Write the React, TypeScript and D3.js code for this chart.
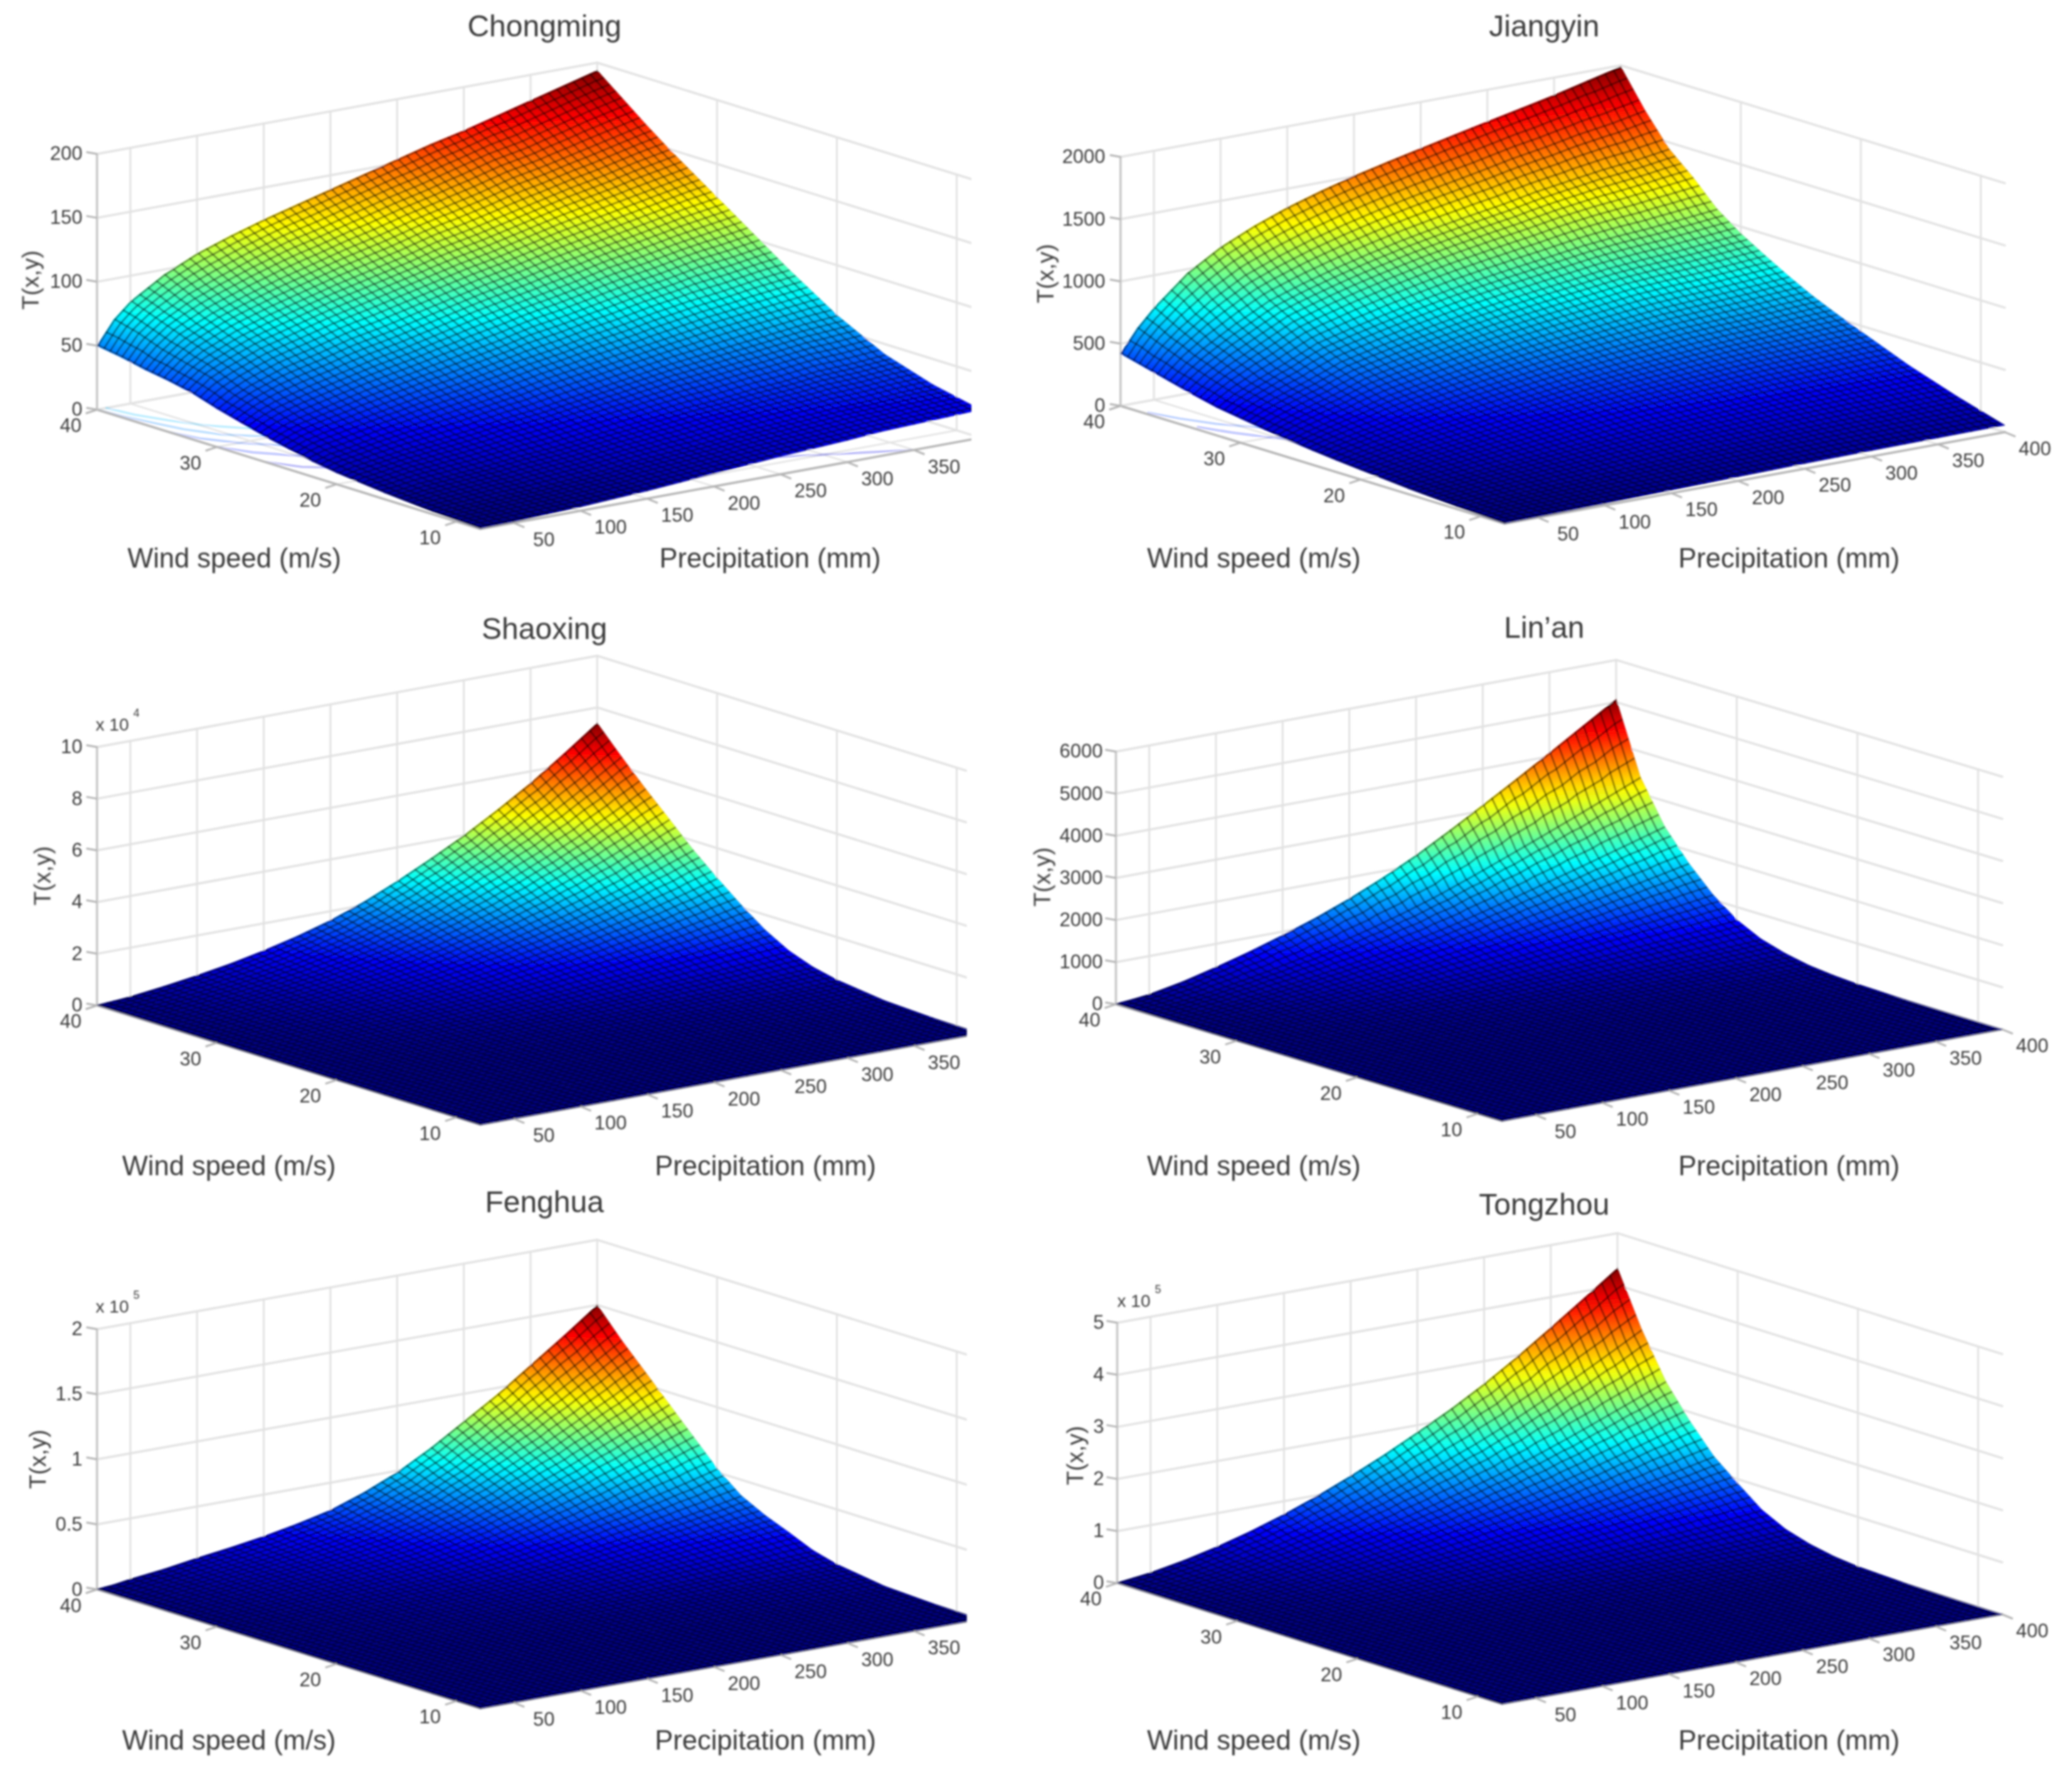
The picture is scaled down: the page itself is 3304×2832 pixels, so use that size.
import * as d3 from "d3";

const FONT = "'Liberation Sans', Arial, sans-serif";

// shared grid nodes of the surfaces
const precipNodes = [25, 37.5, 50, 75, 100, 125, 150, 175, 200, 225, 250, 275, 300, 325, 350, 375, 400];
const windNodes = [8, 12, 16, 20, 22, 24, 26, 28, 30, 32, 34, 36, 38, 40];

const windTicks = [10, 20, 30, 40];
const precipTicksShort = [50, 100, 150, 200, 250, 300, 350];
const precipTicksLong = [50, 100, 150, 200, 250, 300, 350, 400];

// T(x,y), one row per wind node, one column per precipitation node
const chongmingT = [
  [0.5, 0.7, 0.9, 2, 3, 4.6, 6, 8, 10, 12, 14, 15.5, 17, 19, 20, 21, 22],
  [2, 2.7, 3.2, 5, 6, 8, 10, 13, 15, 17, 20, 22, 24, 26, 27, 29, 30],
  [5, 6, 8, 10, 12, 15, 17, 20, 23, 26, 29, 31, 34, 36, 39, 40, 42],
  [9, 12, 14, 18, 21, 24, 28, 31, 35, 39, 43, 47, 50, 53, 56, 59, 61],
  [12, 16, 18, 23, 27, 31, 35, 39, 44, 48, 52, 56, 60, 64, 67, 70, 73],
  [16, 21, 24, 29, 34, 39, 43, 48, 53, 57, 62, 66, 71, 75, 78, 82, 85],
  [20, 26, 30, 36, 42, 47, 52, 57, 62, 68, 72, 77, 82, 86, 91, 94, 98],
  [25, 32, 37, 44, 50, 56, 61, 67, 73, 78, 83, 88, 94, 98, 103, 107, 111],
  [30, 38, 44, 53, 59, 66, 71, 77, 83, 89, 94, 100, 105, 110, 115, 120, 124],
  [36, 46, 52, 62, 69, 76, 82, 88, 94, 100, 105, 111, 117, 122, 127, 132, 137],
  [40, 51, 59, 70, 78, 85, 92, 98, 104, 111, 116, 122, 128, 134, 139, 145, 150],
  [43, 56, 66, 78, 87, 95, 102, 109, 115, 122, 128, 134, 141, 146, 152, 158, 164],
  [47, 63, 73, 87, 97, 106, 114, 120, 127, 134, 140, 147, 154, 159, 166, 173, 179],
  [50, 68, 80, 96, 108, 117, 125, 132, 139, 146, 153, 160, 166, 173, 180, 187, 194],
];
const jiangyinT = [
  [3, 5, 6, 10, 14, 19, 24, 29, 34, 38, 42, 45, 48, 50, 52, 54, 55],
  [20, 26, 32, 44, 56, 69, 84, 98, 112, 123, 133, 142, 150, 156, 161, 167, 170],
  [45, 58, 69, 92, 114, 136, 159, 182, 204, 222, 238, 251, 265, 275, 283, 294, 300],
  [78, 101, 121, 158, 191, 224, 256, 287, 317, 342, 363, 383, 402, 417, 429, 444, 455],
  [95, 124, 149, 194, 234, 271, 308, 343, 377, 404, 429, 451, 473, 490, 504, 522, 535],
  [115, 152, 182, 236, 292, 335, 376, 414, 451, 482, 509, 533, 558, 572, 584, 605, 620],
  [138, 183, 220, 286, 357, 405, 451, 494, 534, 568, 598, 626, 653, 669, 684, 701, 720],
  [165, 220, 265, 343, 432, 486, 537, 585, 629, 665, 698, 729, 760, 777, 790, 810, 830],
  [195, 261, 314, 406, 507, 568, 624, 675, 722, 762, 797, 830, 864, 885, 900, 922, 945],
  [225, 306, 369, 479, 597, 665, 727, 783, 834, 877, 916, 952, 990, 1016, 1033, 1059, 1085],
  [270, 370, 449, 582, 711, 791, 862, 924, 981, 1030, 1073, 1113, 1159, 1194, 1219, 1250, 1280],
  [320, 438, 530, 685, 819, 908, 984, 1051, 1111, 1162, 1208, 1251, 1303, 1343, 1382, 1410, 1450],
  [370, 516, 629, 817, 965, 1068, 1155, 1229, 1294, 1352, 1403, 1454, 1510, 1554, 1607, 1647, 1700],
  [420, 600, 740, 970, 1130, 1250, 1350, 1432, 1505, 1568, 1628, 1687, 1745, 1802, 1860, 1925, 1990],
];
const shaoxingT = [
  [0, 0, 0, 0, 0.001, 0.001, 0.001, 0.002, 0.002, 0.003, 0.004, 0.005, 0.006, 0.007, 0.008, 0.009, 0.01],
  [0, 0, 0.001, 0.001, 0.002, 0.003, 0.005, 0.006, 0.008, 0.011, 0.014, 0.017, 0.02, 0.024, 0.028, 0.032, 0.035],
  [0, 0.001, 0.002, 0.004, 0.007, 0.011, 0.015, 0.02, 0.026, 0.034, 0.043, 0.053, 0.064, 0.076, 0.089, 0.103, 0.12],
  [0.001, 0.003, 0.005, 0.013, 0.022, 0.032, 0.045, 0.06, 0.078, 0.1, 0.127, 0.157, 0.188, 0.223, 0.261, 0.303, 0.35],
  [0.002, 0.005, 0.008, 0.021, 0.035, 0.052, 0.072, 0.097, 0.125, 0.162, 0.205, 0.253, 0.304, 0.361, 0.422, 0.49, 0.56],
  [0.002, 0.007, 0.013, 0.033, 0.056, 0.083, 0.116, 0.155, 0.201, 0.26, 0.329, 0.406, 0.488, 0.58, 0.677, 0.787, 0.9],
  [0.004, 0.012, 0.021, 0.052, 0.088, 0.131, 0.182, 0.244, 0.317, 0.409, 0.518, 0.639, 0.768, 0.912, 1.066, 1.238, 1.42],
  [0.006, 0.017, 0.031, 0.077, 0.131, 0.193, 0.27, 0.361, 0.469, 0.605, 0.767, 0.946, 1.136, 1.349, 1.576, 1.832, 2.1],
  [0.008, 0.023, 0.042, 0.104, 0.177, 0.262, 0.366, 0.489, 0.635, 0.82, 1.04, 1.282, 1.54, 1.829, 2.137, 2.483, 2.85],
  [0.01, 0.03, 0.054, 0.133, 0.227, 0.335, 0.468, 0.626, 0.813, 1.05, 1.331, 1.642, 1.972, 2.342, 2.736, 3.18, 3.65],
  [0.012, 0.037, 0.068, 0.166, 0.283, 0.418, 0.584, 0.781, 1.015, 1.31, 1.661, 2.048, 2.46, 2.921, 3.413, 3.967, 4.55],
  [0.015, 0.044, 0.081, 0.199, 0.339, 0.5, 0.699, 0.935, 1.214, 1.568, 1.987, 2.451, 2.944, 3.496, 4.085, 4.747, 5.45],
  [0.017, 0.052, 0.095, 0.234, 0.398, 0.588, 0.822, 1.099, 1.427, 1.842, 2.336, 2.88, 3.46, 4.109, 4.801, 5.579, 6.4],
  [0.02, 0.06, 0.11, 0.27, 0.46, 0.68, 0.95, 1.27, 1.65, 2.13, 2.7, 3.33, 4.0, 4.75, 5.55, 6.45, 7.4],
];
const linanT = [
  [0, 0, 0, 0, 0, 0, 0, 0, 0, 0, 0, 1, 1, 1, 1, 1, 1],
  [0, 0, 0, 0, 0, 0, 1, 1, 1, 1, 1, 2, 2, 2, 2, 3, 3],
  [0, 0, 0, 1, 1, 2, 2, 3, 4, 4, 5, 6, 8, 9, 10, 11, 12],
  [0, 0, 1, 2, 4, 5, 7, 10, 12, 15, 18, 21, 25, 29, 33, 37, 40],
  [0, 1, 1, 4, 7, 10, 14, 18, 23, 28, 34, 40, 47, 54, 61, 69, 75],
  [0, 1, 3, 7, 12, 18, 25, 32, 41, 50, 60, 72, 85, 97, 110, 124, 135],
  [1, 2, 5, 12, 22, 33, 45, 58, 74, 91, 110, 131, 154, 177, 200, 224, 250],
  [1, 4, 8, 21, 37, 56, 76, 99, 125, 154, 186, 222, 261, 300, 339, 380, 420],
  [2, 7, 13, 35, 62, 92, 127, 164, 207, 255, 309, 370, 433, 498, 564, 632, 700],
  [3, 11, 21, 56, 100, 149, 205, 265, 335, 413, 500, 598, 700, 805, 912, 1021, 1130],
  [5, 17, 32, 84, 151, 224, 308, 399, 503, 620, 750, 898, 1052, 1209, 1370, 1534, 1700],
  [7, 24, 45, 118, 213, 317, 435, 563, 710, 875, 1060, 1268, 1485, 1708, 1935, 2166, 2400],
  [10, 34, 64, 168, 302, 449, 616, 797, 1005, 1240, 1501, 1796, 2104, 2419, 2740, 3069, 3400],
  [15, 50, 95, 250, 450, 670, 920, 1190, 1500, 1850, 2240, 2680, 3140, 3610, 4090, 4580, 5070],
];
const fenghuaT = [
  [0, 0, 0, 0, 0, 0, 0, 0, 0, 0, 0, 0, 0.001, 0.001, 0.001, 0.001, 0.001],
  [0, 0, 0, 0, 0.001, 0.001, 0.001, 0.001, 0.001, 0.002, 0.002, 0.003, 0.004, 0.005, 0.006, 0.007, 0.007],
  [0, 0, 0.001, 0.001, 0.002, 0.002, 0.003, 0.004, 0.005, 0.006, 0.008, 0.011, 0.013, 0.016, 0.019, 0.022, 0.025],
  [0, 0.001, 0.002, 0.003, 0.006, 0.007, 0.01, 0.012, 0.015, 0.02, 0.026, 0.033, 0.042, 0.05, 0.06, 0.069, 0.08],
  [0, 0.001, 0.003, 0.006, 0.009, 0.012, 0.016, 0.02, 0.025, 0.033, 0.043, 0.055, 0.069, 0.083, 0.098, 0.114, 0.13],
  [0.001, 0.002, 0.005, 0.009, 0.015, 0.02, 0.025, 0.032, 0.041, 0.053, 0.069, 0.088, 0.111, 0.133, 0.158, 0.183, 0.21],
  [0.001, 0.003, 0.007, 0.012, 0.02, 0.027, 0.034, 0.044, 0.055, 0.072, 0.093, 0.12, 0.15, 0.181, 0.215, 0.249, 0.285],
  [0.001, 0.004, 0.009, 0.016, 0.027, 0.035, 0.046, 0.058, 0.073, 0.096, 0.124, 0.159, 0.2, 0.24, 0.286, 0.331, 0.38],
  [0.001, 0.005, 0.012, 0.023, 0.037, 0.049, 0.064, 0.081, 0.102, 0.134, 0.173, 0.222, 0.279, 0.335, 0.399, 0.462, 0.53],
  [0.002, 0.007, 0.017, 0.031, 0.05, 0.067, 0.086, 0.11, 0.139, 0.182, 0.235, 0.302, 0.379, 0.456, 0.542, 0.629, 0.72],
  [0.002, 0.009, 0.021, 0.039, 0.064, 0.085, 0.109, 0.14, 0.176, 0.231, 0.297, 0.382, 0.48, 0.577, 0.686, 0.795, 0.91],
  [0.003, 0.011, 0.026, 0.048, 0.077, 0.103, 0.132, 0.169, 0.213, 0.279, 0.359, 0.462, 0.579, 0.696, 0.828, 0.96, 1.1],
  [0.003, 0.013, 0.03, 0.056, 0.09, 0.12, 0.155, 0.198, 0.249, 0.327, 0.421, 0.542, 0.679, 0.817, 0.972, 1.127, 1.29],
  [0.004, 0.015, 0.035, 0.065, 0.105, 0.14, 0.18, 0.23, 0.29, 0.38, 0.49, 0.63, 0.79, 0.95, 1.13, 1.31, 1.5],
];
const tongzhouT = [
  [0, 0, 0, 0, 0, 0, 0, 0, 0, 0, 0, 0, 0.001, 0.001, 0.001, 0.001, 0.001],
  [0, 0, 0, 0, 0, 0, 0.001, 0.001, 0.001, 0.001, 0.002, 0.002, 0.002, 0.003, 0.003, 0.003, 0.004],
  [0, 0, 0, 0.001, 0.001, 0.002, 0.003, 0.003, 0.004, 0.005, 0.007, 0.008, 0.009, 0.01, 0.012, 0.014, 0.015],
  [0, 0.001, 0.001, 0.002, 0.004, 0.006, 0.009, 0.011, 0.014, 0.018, 0.022, 0.025, 0.03, 0.034, 0.039, 0.045, 0.05],
  [0, 0.001, 0.002, 0.005, 0.008, 0.012, 0.017, 0.023, 0.029, 0.036, 0.043, 0.051, 0.059, 0.069, 0.079, 0.089, 0.1],
  [0, 0.002, 0.004, 0.009, 0.016, 0.024, 0.033, 0.044, 0.055, 0.068, 0.082, 0.097, 0.113, 0.131, 0.15, 0.17, 0.19],
  [0.001, 0.004, 0.007, 0.016, 0.027, 0.041, 0.057, 0.075, 0.096, 0.118, 0.142, 0.167, 0.195, 0.226, 0.26, 0.294, 0.33],
  [0.001, 0.006, 0.012, 0.027, 0.046, 0.07, 0.097, 0.128, 0.163, 0.2, 0.241, 0.284, 0.332, 0.384, 0.441, 0.499, 0.56],
  [0.002, 0.011, 0.019, 0.045, 0.076, 0.114, 0.159, 0.21, 0.267, 0.329, 0.396, 0.466, 0.545, 0.632, 0.725, 0.82, 0.92],
  [0.003, 0.015, 0.027, 0.063, 0.108, 0.162, 0.225, 0.297, 0.378, 0.465, 0.561, 0.66, 0.771, 0.894, 1.026, 1.161, 1.3],
  [0.004, 0.021, 0.038, 0.089, 0.152, 0.228, 0.317, 0.419, 0.533, 0.656, 0.791, 0.931, 1.087, 1.261, 1.447, 1.637, 1.83],
  [0.006, 0.028, 0.051, 0.119, 0.204, 0.306, 0.425, 0.56, 0.713, 0.877, 1.058, 1.245, 1.455, 1.687, 1.936, 2.19, 2.45],
  [0.008, 0.038, 0.069, 0.16, 0.274, 0.411, 0.572, 0.754, 0.96, 1.181, 1.425, 1.676, 1.958, 2.271, 2.606, 2.949, 3.3],
  [0.01, 0.05, 0.09, 0.21, 0.36, 0.54, 0.75, 0.99, 1.26, 1.55, 1.87, 2.2, 2.57, 2.98, 3.42, 3.87, 4.33],
];

const chongmingZTicks = [0, 50, 100, 150, 200];
const jiangyinZTicks = [0, 500, 1000, 1500, 2000];
const shaoxingZTicks = [0, 2, 4, 6, 8, 10];
const linanZTicks = [0, 1000, 2000, 3000, 4000, 5000, 6000];
const fenghuaZTicks = [0, 0.5, 1, 1.5, 2];
const tongzhouZTicks = [0, 1, 2, 3, 4, 5];

const chongmingContours = [20, 30, 40, 50, 60];
const jiangyinContours = [300, 400];

// MATLAB's jet
const jet = d3
  .scaleLinear<string>()
  .domain([0, 0.125, 0.375, 0.625, 0.875, 1])
  .range(["#00008f", "#0000ff", "#00ffff", "#ffff00", "#ff0000", "#800000"])
  .clamp(true);

// layout numbers were measured on crops, SX/sy bring them back to page pixels
const panels = [
  {
    name: "Chongming", T: chongmingT, zTicks: chongmingZTicks, contours: chongmingContours, exp: null,
    pTicks: precipTicksShort, off: [0, 0], sy: 0.606, O: [147, 1078], B: [728, 1392], backDy: -240, zPx: 673, clipX: 1472,
    zLabelX: 125, title: [825, 100], zName: [47, 737], windLabel: [355, 1493], precipLabel: [1167, 1493], mult: null,
  },
  {
    name: "Jiangyin", T: jiangyinT, zTicks: jiangyinZTicks, contours: jiangyinContours, exp: null,
    pTicks: precipTicksLong, off: [1650, 0], sy: 0.606, O: [130, 1068], B: [712, 1378], backDy: -241, zPx: 655, clipX: 1500,
    zLabelX: 107, title: [772, 100], zName: [17, 720], windLabel: [332, 1493], precipLabel: [1143, 1493], mult: null,
  },
  {
    name: "Shaoxing", T: shaoxingT, zTicks: shaoxingZTicks, contours: [], exp: "4",
    pTicks: precipTicksShort, off: [0, 950], sy: 0.606, O: [147, 1078], B: [728, 1392], backDy: -240, zPx: 680, clipX: 1465,
    zLabelX: 125, title: [825, 118], zName: [65, 737], windLabel: [347, 1525], precipLabel: [1160, 1525], mult: [145, 355],
  },
  {
    name: "Lin’an", T: linanT, zTicks: linanZTicks, contours: [], exp: null,
    pTicks: precipTicksLong, off: [1650, 950], sy: 0.606, O: [123, 1075], B: [708, 1382], backDy: -241, zPx: 665, clipX: 1500,
    zLabelX: 103, title: [772, 115], zName: [12, 740], windLabel: [332, 1525], precipLabel: [1143, 1525], mult: null,
  },
  {
    name: "Fenghua", T: fenghuaT, zTicks: fenghuaZTicks, contours: [], exp: "5",
    pTicks: precipTicksShort, off: [0, 1900], sy: 0.593, O: [147, 1070], B: [728, 1390], backDy: -240, zPx: 700, clipX: 1465,
    zLabelX: 125, title: [825, 60], zName: [58, 720], windLabel: [347, 1500], precipLabel: [1160, 1500], mult: [145, 325],
  },
  {
    name: "Tongzhou", T: tongzhouT, zTicks: tongzhouZTicks, contours: [], exp: "5",
    pTicks: precipTicksLong, off: [1650, 1900], sy: 0.593, O: [125, 1053], B: [708, 1378], backDy: -241, zPx: 700, clipX: 1500,
    zLabelX: 105, title: [772, 68], zName: [62, 710], windLabel: [332, 1500], precipLabel: [1143, 1500], mult: [125, 310],
  },
];

const SX = 1650 / 1568;
const GRID = "#e2e2e2";
const AXIS = "#b4b4b4";
const INK = "#3a3a3a";
const MESH_WIDTH = 2.6;

function Label({ x, y, size, children, anchor = "middle" }: any) {
  return (
    <text x={x} y={y} fontFamily={FONT} fontSize={size} fill={INK} textAnchor={anchor}>
      {children}
    </text>
  );
}

function Panel({ cfg, idx }: { cfg: (typeof panels)[number]; idx: number }) {
  const { T, zTicks, sy } = cfg;
  const zTop = zTicks[zTicks.length - 1];
  const toX = (x: number) => cfg.off[0] + x * SX;
  const toY = (y: number) => cfg.off[1] + y * sy;

  const pX = d3.scaleLinear([25, 400], [toX(cfg.O[0]), toX(cfg.O[0] + 758)]);
  const pY = d3.scaleLinear([25, 400], [0, cfg.backDy * sy]);
  const wX = d3.scaleLinear([40, 8], [0, (cfg.B[0] - cfg.O[0]) * SX]);
  const wY = d3.scaleLinear([40, 8], [toY(cfg.O[1]), toY(cfg.B[1])]);
  const zY = d3.scaleLinear([0, zTop], [0, -cfg.zPx * sy]);
  const project = (p: number, w: number, z: number): [number, number] => [
    pX(p) + wX(w),
    pY(p) + wY(w) + zY(z),
  ];

  const zMin = d3.min(T.flat())!;
  const zMax = d3.max(T.flat())!;
  const colour = (z: number) => jet((z - zMin) / (zMax - zMin));

  // mesh cell coordinates: the surface has a step of 6.25 mm and 0.5 m/s
  const meshI = (p: number) => (p - 25) / 6.25;
  const meshJ = (w: number) => (40 - w) / 0.5;

  const tris: any[] = [];
  for (let r = windNodes.length - 2; r >= 0; r--) {
    for (let c = precipNodes.length - 2; c >= 0; c--) {
      const corner = (rr: number, cc: number) => ({
        p: precipNodes[cc],
        w: windNodes[rr],
        z: T[rr][cc],
      });
      const a = corner(r, c);
      const b = corner(r, c + 1);
      const e = corner(r + 1, c + 1);
      const f = corner(r + 1, c);
      tris.push({ id: `${idx}-${r}-${c}-a`, v: [a, b, e] });
      tris.push({ id: `${idx}-${r}-${c}-b`, v: [a, e, f] });
    }
  }

  const cells = tris.map((t) => {
    const [v0, v1, v2] = t.v;
    const s0 = project(v0.p, v0.w, v0.z);
    const s1 = project(v1.p, v1.w, v1.z);
    const s2 = project(v2.p, v2.w, v2.z);

    // z as a plane over the screen, so the colour runs straight through the triangle
    const dx1 = s1[0] - s0[0];
    const dy1 = s1[1] - s0[1];
    const dz1 = v1.z - v0.z;
    const dx2 = s2[0] - s0[0];
    const dy2 = s2[1] - s0[1];
    const dz2 = v2.z - v0.z;
    const det = dx1 * dy2 - dx2 * dy1;
    const ga = (dz1 * dy2 - dz2 * dy1) / det;
    const gb = (dx1 * dz2 - dx2 * dz1) / det;
    const g2 = ga * ga + gb * gb;
    const lo = Math.min(v0.z, v1.z, v2.z);
    const hi = Math.max(v0.z, v1.z, v2.z);
    const flat = !(g2 > 0) || hi - lo < (zMax - zMin) * 1e-4;

    // the mesh tile mapped onto the triangle
    const i0 = meshI(v0.p);
    const j0 = meshJ(v0.w);
    const di1 = meshI(v1.p) - i0;
    const dj1 = meshJ(v1.w) - j0;
    const di2 = meshI(v2.p) - i0;
    const dj2 = meshJ(v2.w) - j0;
    const md = di1 * dj2 - di2 * dj1;
    const ma = (dx1 * dj2 - dx2 * dj1) / md;
    const mc = (di1 * dx2 - di2 * dx1) / md;
    const mb = (dy1 * dj2 - dy2 * dj1) / md;
    const md2 = (di1 * dy2 - di2 * dy1) / md;
    const me = s0[0] - ma * i0 - mc * j0;
    const mf = s0[1] - mb * i0 - md2 * j0;

    // keep the mesh lines the same width on the page however far the tile is stretched
    const area = Math.abs(ma * md2 - mb * mc);
    const thickJ = Math.min(0.45, MESH_WIDTH / (area / Math.hypot(ma, mb)));
    const thickI = Math.min(0.45, MESH_WIDTH / (area / Math.hypot(mc, md2)));

    return {
      id: t.id,
      points: [s0, s1, s2].map((s) => s.join(",")).join(" "),
      flat,
      flatColour: colour((lo + hi) / 2),
      x1: s0[0] + ((lo - v0.z) * ga) / g2,
      y1: s0[1] + ((lo - v0.z) * gb) / g2,
      x2: s0[0] + ((hi - v0.z) * ga) / g2,
      y2: s0[1] + ((hi - v0.z) * gb) / g2,
      stops: d3.range(0, 7).map((k) => ({ o: k / 6, col: colour(lo + ((hi - lo) * k) / 6) })),
      matrix: `matrix(${ma},${mb},${mc},${md2},${me},${mf})`,
      thickI,
      thickJ,
    };
  });

  // contours of the surface laid on the floor, only visible where the surface floats off it
  const contourLine = d3.line();
  const contourPaths = cfg.contours.map((level) => {
    const pts: [number, number][] = [];
    windNodes.forEach((w, r) => {
      for (let c = 0; c < precipNodes.length - 1; c++) {
        const a = T[r][c];
        const b = T[r][c + 1];
        if (a <= level && level < b) {
          const p = d3.scaleLinear([a, b], [precipNodes[c], precipNodes[c + 1]])(level);
          pts.push(project(p, w, 0));
        }
      }
    });
    return { level, d: contourLine(pts) || "" };
  });

  const line = (a: [number, number], b: [number, number], key: string, stroke: string, width: number) => (
    <line key={key} x1={a[0]} y1={a[1]} x2={b[0]} y2={b[1]} stroke={stroke} strokeWidth={width} />
  );
  const allP = [...precipTicksLong];

  return (
    <g>
      <defs>
        <clipPath id={`clip-${idx}`}>
          <rect x={cfg.off[0]} y={cfg.off[1] - 100} width={cfg.clipX * SX} height={1100} />
        </clipPath>
        {cells.map((c) =>
          c.flat ? null : (
            <linearGradient
              key={c.id}
              id={`g-${c.id}`}
              gradientUnits="userSpaceOnUse"
              x1={c.x1}
              y1={c.y1}
              x2={c.x2}
              y2={c.y2}
            >
              {c.stops.map((s) => (
                <stop key={s.o} offset={s.o} stopColor={s.col} />
              ))}
            </linearGradient>
          ),
        )}
        {cells.map((c) => (
          <pattern
            key={c.id}
            id={`m-${c.id}`}
            patternUnits="userSpaceOnUse"
            width={1}
            height={1}
            patternTransform={c.matrix}
          >
            <rect x={0} y={0} width={1} height={c.thickJ} fill="#000" fillOpacity={0.5} />
            <rect x={0} y={0} width={c.thickI} height={1} fill="#000" fillOpacity={0.5} />
          </pattern>
        ))}
      </defs>

      <g clipPath={`url(#clip-${idx})`} strokeLinecap="round">
        {/* back walls and floor */}
        {zTicks.map((z) => line(project(25, 40, z), project(400, 40, z), `lw-${z}`, GRID, 3.5))}
        {zTicks.map((z) => line(project(400, 40, z), project(400, 8, z), `rw-${z}`, GRID, 3.5))}
        {allP.map((p) => line(project(p, 40, 0), project(p, 40, zTop), `lv-${p}`, GRID, 3))}
        {windTicks.slice(0, 3).map((w) => line(project(400, w, 0), project(400, w, zTop), `rv-${w}`, GRID, 3))}
        {allP.map((p) => line(project(p, 40, 0), project(p, 8, 0), `fp-${p}`, GRID, 2.5))}
        {windTicks.map((w) => line(project(25, w, 0), project(400, w, 0), `fw-${w}`, GRID, 2.5))}
        {contourPaths.map((c) => (
          <path key={c.level} d={c.d} fill="none" stroke={colour(c.level)} strokeOpacity={0.3} strokeWidth={3} />
        ))}
        {line(project(25, 40, 0), project(25, 8, 0), "ax-w", AXIS, 3.5)}
        {line(project(25, 8, 0), project(400, 8, 0), "ax-p", AXIS, 3.5)}
        {line(project(25, 40, 0), project(25, 40, zTop), "ax-z", "#c6c6c6", 3.5)}

        {/* surface */}
        {cells.map((c) => {
          const fill = c.flat ? c.flatColour : `url(#g-${c.id})`;
          return <polygon key={c.id} points={c.points} fill={fill} stroke={fill} strokeWidth={0.8} />;
        })}
        {cells.map((c) => (
          <polygon key={c.id} points={c.points} fill={`url(#m-${c.id})`} />
        ))}
      </g>

      {/* ticks */}
      {zTicks.map((z) => {
        const s = project(25, 40, z);
        return line(s, [s[0] - 17, s[1] - 3], `tz-${z}`, AXIS, 3);
      })}
      {windTicks.map((w) => {
        const s = project(25, w, 0);
        return line(s, [s[0] - 18, s[1] + 6], `tw-${w}`, AXIS, 3);
      })}
      {cfg.pTicks.map((p) => {
        const s = project(p, 8, 0);
        return line(s, [s[0] + 17, s[1] + 7], `tp-${p}`, AXIS, 3);
      })}

      {zTicks.map((z) => (
        <Label key={z} x={toX(cfg.zLabelX)} y={project(25, 40, z)[1] + 10} size={31} anchor="end">
          {String(z)}
        </Label>
      ))}
      {windTicks.map((w) => {
        const s = project(25, w, 0);
        return (
          <Label key={w} x={s[0] - 42} y={s[1] + 36} size={31}>
            {String(w)}
          </Label>
        );
      })}
      {cfg.pTicks.map((p) => {
        const s = project(p, 8, 0);
        return (
          <Label key={p} x={s[0] + 48} y={s[1] + 37} size={31}>
            {String(p)}
          </Label>
        );
      })}

      <Label x={toX(cfg.title[0])} y={toY(cfg.title[1]) - 3} size={48}>
        {cfg.name}
      </Label>
      <Label x={toX(cfg.windLabel[0])} y={toY(cfg.windLabel[1])} size={43.5}>
        Wind speed (m/s)
      </Label>
      <Label x={toX(cfg.precipLabel[0])} y={toY(cfg.precipLabel[1])} size={43.5}>
        Precipitation (mm)
      </Label>
      <text
        transform={`translate(${toX(cfg.zName[0]) + 12},${toY(cfg.zName[1])}) rotate(-90)`}
        fontFamily={FONT}
        fontSize={37}
        fill={INK}
        textAnchor="middle"
      >
        T(x,y)
      </text>
      {cfg.mult && (
        <>
          <Label x={toX(cfg.mult[0])} y={toY(cfg.mult[1])} size={28} anchor="start">
            x 10
          </Label>
          <Label x={toX(cfg.mult[0]) + 60} y={toY(cfg.mult[1]) - 22} size={18} anchor="start">
            {cfg.exp}
          </Label>
        </>
      )}
    </g>
  );
}

export default function App() {
  return (
    <svg
      width={3304}
      height={2832}
      viewBox="0 0 3304 2832"
      style={{ position: "absolute", left: 0, top: 0, background: "#fff" }}
    >
      <defs>
        <filter id="soft" filterUnits="userSpaceOnUse" x={0} y={0} width={3304} height={2832}>
          <feGaussianBlur stdDeviation={1.6} />
        </filter>
      </defs>
      <g filter="url(#soft)">
        {panels.map((p, i) => (
          <Panel key={p.name} cfg={p} idx={i} />
        ))}
      </g>
    </svg>
  );
}
